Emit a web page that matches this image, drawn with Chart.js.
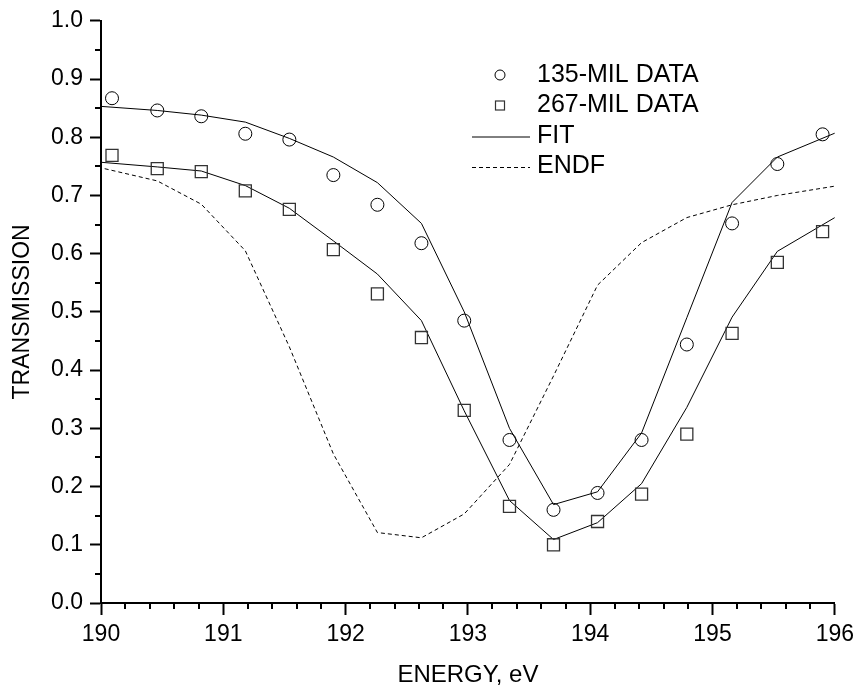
<!DOCTYPE html>
<html>
<head>
<meta charset="utf-8">
<script src="https://cdn.jsdelivr.net/npm/chart.js@4/dist/chart.umd.min.js"></script>
<style>
html,body{margin:0;padding:0;background:#fff;}
#wrap{width:860px;height:694px;}
</style>
</head>
<body>
<div id="wrap"><canvas id="c" width="860" height="694"></canvas></div>
<script>
// ---- data ----
const dataEnergy = [190.09,190.46,190.82,191.18,191.54,191.90,192.26,192.62,192.97,193.34,193.70,194.06,194.42,194.79,195.16,195.53,195.90];
const data135 = [0.867,0.846,0.836,0.806,0.796,0.735,0.684,0.618,0.485,0.280,0.160,0.189,0.280,0.444,0.652,0.754,0.805];
const data267 = [0.769,0.746,0.741,0.708,0.676,0.607,0.531,0.456,0.331,0.166,0.100,0.140,0.187,0.290,0.463,0.585,0.638];

const fitEnergy = [190.0,190.46,190.82,191.18,191.54,191.90,192.26,192.62,192.97,193.34,193.70,194.06,194.42,194.79,195.16,195.53,196.0];
const fit135 = [0.853,0.846,0.838,0.826,0.798,0.766,0.722,0.652,0.500,0.300,0.169,0.191,0.292,0.490,0.688,0.766,0.807];
const fit267 = [0.757,0.749,0.742,0.717,0.678,0.622,0.565,0.485,0.330,0.176,0.109,0.138,0.205,0.336,0.491,0.604,0.662];

const endfEnergy = [190.03,190.46,190.82,191.18,191.54,191.90,192.26,192.62,192.97,193.34,193.70,194.06,194.42,194.79,195.16,195.53,196.0];
const endf = [0.746,0.725,0.685,0.605,0.440,0.256,0.121,0.112,0.153,0.238,0.390,0.546,0.619,0.662,0.684,0.700,0.716];

const xTickMin = 190, xTickMax = 196, xStep = 1, xMinorStep = 0.2;
const yTickMin = 0, yTickMax = 1, yStep = 0.1, yMinorStep = 0.05;

const labels = ['135-MIL DATA','267-MIL DATA','FIT','ENDF'];
const xTitle = 'ENERGY, eV';
const yTitle = 'TRANSMISSION';

const pts = (xs, ys) => xs.map((x,i)=>({x:x, y:ys[i]}));

const FONT = "'Liberation Sans', Arial, sans-serif";

// ---- plugins ----
const minorTicks = {
  id:'minorTicks',
  afterDraw(chart){
    const ctx = chart.ctx, xs = chart.scales.x, ys = chart.scales.y;
    ctx.save();
    ctx.strokeStyle = '#000';
    ctx.lineWidth = 2;
    const nx = Math.round((xTickMax - xTickMin)/xMinorStep);
    const ratioX = Math.round(xStep/xMinorStep);
    for(let i=0;i<=nx;i++){
      if(i % ratioX === 0) continue;
      const px = Math.round(xs.getPixelForValue(xTickMin + i*xMinorStep));
      ctx.beginPath(); ctx.moveTo(px, xs.top); ctx.lineTo(px, xs.top + 6); ctx.stroke();
    }
    const ny = Math.round((yTickMax - yTickMin)/yMinorStep);
    const ratioY = Math.round(yStep/yMinorStep);
    for(let i=0;i<=ny;i++){
      if(i % ratioY === 0) continue;
      const py = Math.round(ys.getPixelForValue(yTickMin + i*yMinorStep));
      ctx.beginPath(); ctx.moveTo(ys.right, py); ctx.lineTo(ys.right - 6, py); ctx.stroke();
    }
    ctx.restore();
  }
};

const customLegend = {
  id:'customLegend',
  afterDraw(chart){
    const ctx = chart.ctx;
    const items = chart.data.datasets.filter(d => !d.hideInLegend);
    const x0 = 472, x1 = 530, xs = 500, tx = 537;
    let y = 75;
    const dy = 30.5;
    ctx.save();
    ctx.font = "25px " + FONT;
    ctx.textBaseline = 'middle';
    ctx.textAlign = 'left';
    ctx.fillStyle = '#000';
    items.forEach(d => {
      ctx.strokeStyle = '#000';
      ctx.setLineDash([]);
      if(d.showLine){
        ctx.lineWidth = 1;
        ctx.setLineDash(d.borderDash || []);
        ctx.beginPath(); ctx.moveTo(x0, y+1); ctx.lineTo(x1, y+1); ctx.stroke();
        ctx.setLineDash([]);
      } else if(d.pointStyle === 'circle'){
        ctx.lineWidth = 1;
        ctx.beginPath(); ctx.arc(xs, y, 5, 0, Math.PI*2); ctx.stroke();
      } else {
        ctx.lineWidth = 1.2;
        ctx.strokeStyle = '#333';
        ctx.strokeRect(xs-4.5, y-4.5, 9, 9);
      }
      ctx.fillText(d.label, tx, y);
      y += dy;
    });
    ctx.restore();
  }
};

Chart.defaults.font.family = FONT;
Chart.defaults.color = '#000';

new Chart(document.getElementById('c'), {
  type:'scatter',
  data:{
    datasets:[
      { label: labels[0], data: pts(dataEnergy, data135), showLine:false,
        pointStyle:'circle', pointRadius:6.5, pointBorderWidth:1, borderColor:'#000', backgroundColor:'rgba(0,0,0,0)' },
      { label: labels[1], data: pts(dataEnergy, data267), showLine:false,
        pointStyle:'rect', pointRadius:8.5, pointBorderWidth:1.3, borderColor:'#333', backgroundColor:'rgba(0,0,0,0)' },
      { label: labels[2], data: pts(fitEnergy, fit135), showLine:true, pointRadius:0,
        borderColor:'#000', borderWidth:1, tension:0 },
      { label: labels[2], data: pts(fitEnergy, fit267), showLine:true, pointRadius:0,
        borderColor:'#000', borderWidth:1, tension:0, hideInLegend:true },
      { label: labels[3], data: pts(endfEnergy, endf), showLine:true, pointRadius:0,
        borderColor:'#000', borderWidth:1, borderDash:[4,3], tension:0 }
    ]
  },
  options:{
    responsive:false,
    animation:false,
    layout:{ padding:{ top:17, right:24, left:0, bottom:0 } },
    plugins:{ legend:{display:false}, tooltip:{enabled:false} },
    scales:{
      x:{
        type:'linear', position:'bottom', min:xTickMin, max:xTickMax,
        ticks:{ stepSize:xStep, font:{size:23}, padding:6, maxRotation:0, autoSkip:false,
          callback:(v)=>String(Math.round(v)) },
        grid:{ drawOnChartArea:false, drawTicks:true, tickLength:12, tickWidth:2, tickColor:'#000' },
        border:{ display:true, color:'#000', width:2 },
        title:{ display:true, text:xTitle, font:{size:24}, padding:{top:0,bottom:4} },
        afterFit(s){ s.height = 91; }
      },
      y:{
        type:'linear', position:'left', min:yTickMin, max:yTickMax,
        ticks:{ stepSize:yStep, font:{size:23}, padding:7, autoSkip:false,
          callback:(v)=>Number(v).toFixed(1) },
        grid:{ drawOnChartArea:false, drawTicks:true, tickLength:11, tickWidth:2, tickColor:'#000' },
        border:{ display:true, color:'#000', width:2 },
        title:{ display:true, text:yTitle, font:{size:23}, padding:{top:9,bottom:0} },
        afterFit(s){ s.width = 101; }
      }
    }
  },
  plugins:[minorTicks, customLegend]
});
</script>
</body>
</html>
